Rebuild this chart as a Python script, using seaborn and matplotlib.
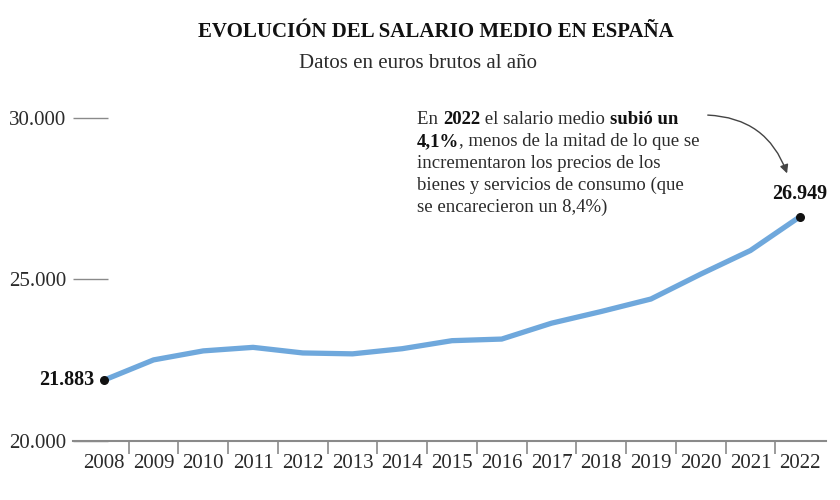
import matplotlib
matplotlib.use("Agg")
import matplotlib.pyplot as plt
import seaborn as sns
import pandas as pd

years = [2008, 2009, 2010, 2011, 2012, 2013, 2014, 2015, 2016, 2017, 2018, 2019, 2020, 2021, 2022]
salary = [21883, 22511, 22790, 22899, 22726, 22698, 22858, 23106, 23156, 23647, 24009, 24396, 25166, 25897, 26949]
yticks = [20000, 25000, 30000]
ytick_labels = ["20.000", "25.000", "30.000"]
first_label = "21.883"
last_label = "26.949"

title = "EVOLUCIÓN DEL SALARIO MEDIO EN ESPAÑA"
subtitle = "Datos en euros brutos al año"

sns.set_theme(style="white")
plt.rcParams['font.family'] = ['Liberation Serif', 'DejaVu Serif']

TXT = "#2b2b2b"
AX = "#8a8a8a"
LINE = "#6fa8dc"

df = pd.DataFrame({"year": years, "salary": salary})

fig = plt.figure(figsize=(8.4, 5.0), dpi=100)
ax = fig.add_axes([73/840, 59/500, (826-73)/840, (441-118)/500])

sns.lineplot(data=df, x="year", y="salary", ax=ax, color=LINE, linewidth=3.8,
             solid_capstyle="round", solid_joinstyle="round", zorder=2)
ax.scatter([years[0], years[-1]], [salary[0], salary[-1]], s=30, color="#111111", zorder=3)

ax.set_xlim(2007.38, 2022.52)
ax.set_ylim(20000, 30000)
ax.set_xlabel("")
ax.set_ylabel("")

for s in ["top", "right", "left"]:
    ax.spines[s].set_visible(False)
ax.spines["bottom"].set_color(AX)
ax.spines["bottom"].set_linewidth(1.5)

ax.set_yticks(yticks)
ax.set_yticklabels(ytick_labels)
ax.tick_params(axis="y", direction="in", length=25, width=1.0, color=AX, pad=5,
               labelsize=15, labelcolor=TXT, left=True)

ax.set_xticks(years)
ax.set_xticklabels([str(y) for y in years])
ax.set_xticks([y + 0.5 for y in years[:-1]], minor=True)
ax.tick_params(axis="x", which="major", length=0, pad=9, labelsize=15, labelcolor=TXT, bottom=True)
ax.tick_params(axis="x", which="minor", direction="out", length=9, width=1.2, color=AX, bottom=True)

# value labels
ax.annotate(first_label, (years[0], salary[0]), xytext=(-7, 0), textcoords="offset points",
            ha="right", va="center", fontsize=14.5, fontweight="bold", color="#111111")
ax.annotate(last_label, (years[-1], salary[-1]), xytext=(0, 9), textcoords="offset points",
            ha="center", va="bottom", fontsize=14.5, fontweight="bold", color="#111111",
            annotation_clip=False)

# Title & subtitle
fig.text(436/840, 1 - 32/500, title, ha="center", va="center", fontsize=15,
         fontweight="bold", color="#111111")
fig.text(418/840, 1 - 63/500, subtitle, ha="center", va="center", fontsize=15, color=TXT)

# Rich annotation text
lines = [
    [("En ", False), ("2022", True), (" el salario medio ", False), ("subió un", True)],
    [("4,1%", True), (", menos de la mitad de lo que se", False)],
    [("incrementaron los precios de los", False)],
    [("bienes y servicios de consumo (que", False)],
    [("se encarecieron un 8,4%)", False)],
]
fs = 13.5
x0 = 417 / 840
y_top = 1 - 124 / 500
dy = 22 / 500
for i, parts in enumerate(lines):
    y = y_top - i * dy
    prev = None
    for txt, bold in parts:
        w = "bold" if bold else "normal"
        c = "#111111" if bold else TXT
        if prev is None:
            prev = fig.text(x0, y, txt, ha="left", va="baseline", fontsize=fs, fontweight=w, color=c)
        else:
            prev = ax.annotate(txt, xy=(1, 0), xycoords=prev, ha="left", va="bottom",
                               fontsize=fs, fontweight=w, color=c, annotation_clip=False)

# curved arrow
fig.add_artist(matplotlib.patches.FancyArrowPatch(
    (705/840, 1 - 115/500), (788/840, 1 - 176/500),
    connectionstyle="arc3,rad=-0.35", arrowstyle="-|>,head_length=5,head_width=2.5",
    color="#444444", linewidth=1.0, transform=fig.transFigure))

fig.savefig("out.png", dpi=100)
